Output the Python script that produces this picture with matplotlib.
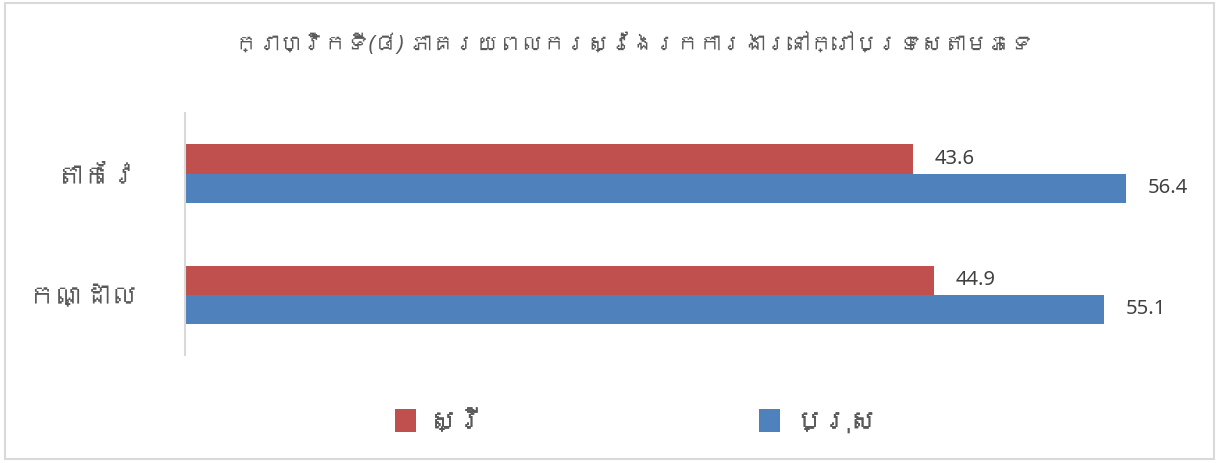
import matplotlib
matplotlib.use("Agg")
import matplotlib.pyplot as plt
from matplotlib import font_manager
from matplotlib.ft2font import FT2Font
from matplotlib.patches import Rectangle
import numpy as np

# data
categories = ["កណ្ដាល", "តាកែវ"]   # bottom to top
female = [44.9, 43.6]
male = [55.1, 56.4]
series_names = ["ស្រី", "ប្រុស"]
title = "ក្រាហ្វិកទី(៨) ភាគរយពលករស្វែងរកការងារនៅក្រៅប្រទេសតាមភេទ"

red = "#c0504d"
blue = "#4f81bd"
txt = "#595959"

# look for any installed font with khmer letters
khmer = []
for f in font_manager.fontManager.ttflist:
    try:
        if 0x1780 in FT2Font(f.fname).get_charmap() and f.name not in khmer:
            khmer.append(f.name)
    except Exception:
        pass
# latin text (numbers) from Noto Sans, khmer falls through to the khmer font
fonts = ["Noto Sans"] + khmer + ["DejaVu Sans"]
plt.rcParams["font.family"] = fonts

fig = plt.figure(figsize=(12.19, 4.63), dpi=100)
# light frame round the whole chart
fig.patches.append(Rectangle((0.004, 0.008), 0.992, 0.985, transform=fig.transFigure,
                             fill=False, edgecolor="#d9d9d9", linewidth=1.5))

ax = fig.add_axes([0.152, 0.233, 0.821, 0.523])
y = np.arange(len(categories))
h = 0.24
b1 = ax.barh(y + h / 2, female, height=h, color=red, label=series_names[0])
b2 = ax.barh(y - h / 2, male, height=h, color=blue, label=series_names[1])

for bars, vals in ((b1, female), (b2, male)):
    for bar, v in zip(bars, vals):
        ax.text(v + 1.3, bar.get_y() + bar.get_height() / 2, f"{v:.1f}",
                va="center", ha="left", fontsize=14.5, color="#404040")

ax.set_xlim(0, 60)
ax.set_ylim(-0.5, 1.5)
ax.set_yticks(y)
ax.set_yticklabels(categories, fontsize=20, color=txt)
ax.set_xticks([])
ax.tick_params(axis="y", length=0, pad=34)
for s in ("top", "right", "bottom"):
    ax.spines[s].set_visible(False)
ax.spines["left"].set_color("#d9d9d9")
ax.spines["left"].set_linewidth(1.5)

fig.text(0.52, 0.903, title, ha="center", va="center", fontsize=16,
         style="italic", color=txt)

# one legend per entry so they sit where the reference has them
for handle, x0 in ((b1, 0.324), (b2, 0.623)):
    lg = fig.legend(handles=[handle], loc="center left", bbox_to_anchor=(x0, 0.086),
                    frameon=False, fontsize=20, labelcolor=txt, borderaxespad=0,
                    borderpad=0, handlelength=0.75, handleheight=0.85, handletextpad=0.5)
    fig.add_artist(lg)

fig.savefig("out.png", dpi=100)
